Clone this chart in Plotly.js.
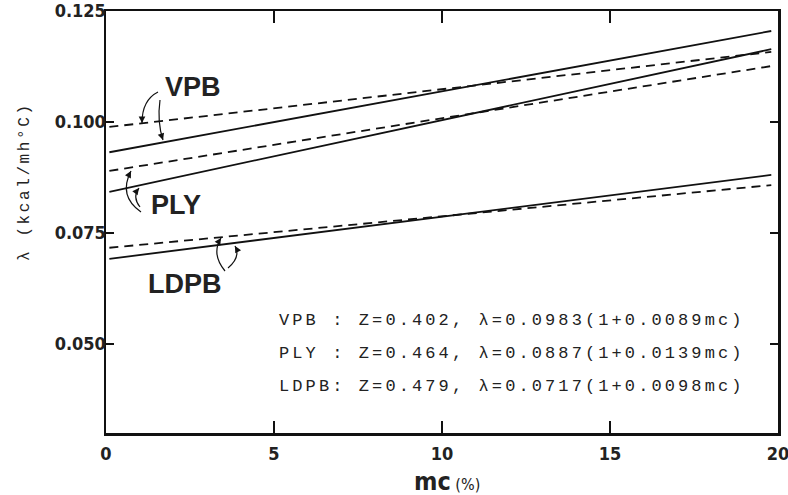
<!DOCTYPE html>
<html>
<head>
<meta charset="utf-8">
<script src="https://cdn.plot.ly/plotly-3.0.1.min.js"></script>
<style>
html,body{margin:0;padding:0;background:#fff;}
text[data-unformatted*="Z="]{letter-spacing:3.1px;}
text[data-unformatted*="kcal"]{letter-spacing:2.6px;}
</style>
</head>
<body>
<div id="chart" style="width:788px;height:495px;"></div>
<script>
// ---- data ----
const mcEnds = [0.1, 19.8];                 // moisture content (%) at line ends
const vpbMeasured  = [0.0932, 0.1205];      // solid
const vpbCalc      = [0.0989, 0.1158];      // dashed
const plyMeasured  = [0.0843, 0.1164];
const plyCalc      = [0.0890, 0.1126];
const ldpbMeasured = [0.0692, 0.0881];
const ldpbCalc     = [0.0717, 0.0858];
const seriesNames  = ['VPB', 'PLY', 'LDPB'];
const eqTexts = [
  'VPB : Z=0.402, λ=0.0983(1+0.0089mc)',
  'PLY : Z=0.464, λ=0.0887(1+0.0139mc)',
  'LDPB: Z=0.479, λ=0.0717(1+0.0098mc)'
];
const xTicks = [0, 5, 10, 15, 20];
const yTicks = [0.050, 0.075, 0.100, 0.125];

// ---- layout helpers (pixel -> paper) ----
const L = 106, R = 778, T = 11, B = 433;
const px = x => (x - L) / (R - L);
const py = y => (B - y) / (B - T);

const solid = {color:'#111', width:1.8};
const dashed = {color:'#111', width:1.8, dash:'9px,6px'};
const traces = [
  [vpbMeasured, solid], [vpbCalc, dashed],
  [plyMeasured, solid], [plyCalc, dashed],
  [ldpbMeasured, solid], [ldpbCalc, dashed]
].map(([y, line], i) => ({
  x: mcEnds, y: y, mode: 'lines', line: line, hoverinfo: 'skip',
  name: seriesNames[Math.floor(i/2)], showlegend: false
}));

// curved arrows (decoration)
const arrows = [
  [[158,92],[142,100],[142,123]],
  [[160,100],[157,122],[163,140]],
  [[141,212],[118,196],[131,171]],
  [[140,207],[132,197],[139,188]],
  [[225,271],[211,254],[221,238]],
  [[228,268],[241,257],[235,246]]
];
const shapes = arrows.map(([s,c,e]) => ({
  type:'path', xref:'paper', yref:'paper',
  path:`M ${px(s[0])} ${py(s[1])} Q ${px(c[0])} ${py(c[1])} ${px(e[0])} ${py(e[1])}`,
  line:{color:'#111', width:1.2}
}));
const heads = arrows.map(([s,c,e]) => {
  const dx = c[0]-e[0], dy = c[1]-e[1], n = Math.hypot(dx,dy);
  return {xref:'paper', yref:'paper', x:px(e[0]), y:py(e[1]), text:'',
    showarrow:true, arrowhead:2, arrowsize:1.1, arrowwidth:1.2, arrowcolor:'#111',
    ax: dx/n*7, ay: dy/n*7, standoff:0};
});

const labelFont = {family:'Liberation Sans, Arial, sans-serif', size:27, color:'#222'};
const eqFont = {family:'Liberation Mono, Courier New, monospace', size:17, color:'#222'};
const C = {xanchor:'center', yanchor:'middle', showarrow:false, xref:'paper', yref:'paper'};
const annotations = [
  {...C, x:px(193), y:py(87), text:'<b>VPB</b>', font:labelFont},
  {...C, x:px(176), y:py(205), text:'<b>PLY</b>', font:labelFont},
  {...C, x:px(185), y:py(284), text:'<b>LDPB</b>', font:labelFont},
  ...eqTexts.map((t, i) => ({...C, x:px(277), y:py([321,353,386][i]),
    xanchor:'left', text:t, font:eqFont})),
  {...C, x:px(25), y:py(182), text:'λ (kcal/mh°C)', textangle:-90,
    font:{family:'Liberation Mono, Courier New, monospace', size:16, color:'#222'}},
  {...C, x:px(447), y:py(481),
    text:'<b>mc</b><span style="font-size:16px"> (%)</span>',
    font:{family:'DejaVu Sans Condensed, Liberation Sans Narrow, sans-serif', size:25, color:'#222'}},
  ...heads
];

const tickFont = {family:'DejaVu Sans Condensed, Liberation Sans Narrow, sans-serif', size:18, color:'#222', weight:'bold'};
const layout = {
  width:788, height:495,
  margin:{l:L, r:788-R, t:T, b:495-B},
  paper_bgcolor:'#fff', plot_bgcolor:'#fff',
  showlegend:false,
  xaxis:{range:[0,20], tickvals:xTicks, ticks:'inside', ticklen:12, tickwidth:1.5, tickcolor:'#111',
    showline:true, linewidth:2.5, linecolor:'#111', mirror:'ticks', showgrid:false, zeroline:false,
    tickfont:tickFont, ticklabelstandoff:3, ticklabeloverflow:'allow'},
  yaxis:{range:[0.030,0.125], tickvals:yTicks, tickformat:'.3f', ticks:'inside', ticklen:8, tickwidth:1.5, tickcolor:'#111',
    showline:true, linewidth:2.5, linecolor:'#111', mirror:'ticks', showgrid:false, zeroline:false,
    tickfont:tickFont, ticklabelstandoff:-6, ticklabeloverflow:'allow'},
  shapes: shapes,
  annotations: annotations
};
Plotly.newPlot('chart', traces, layout, {displayModeBar:false, staticPlot:true});
</script>
</body>
</html>
